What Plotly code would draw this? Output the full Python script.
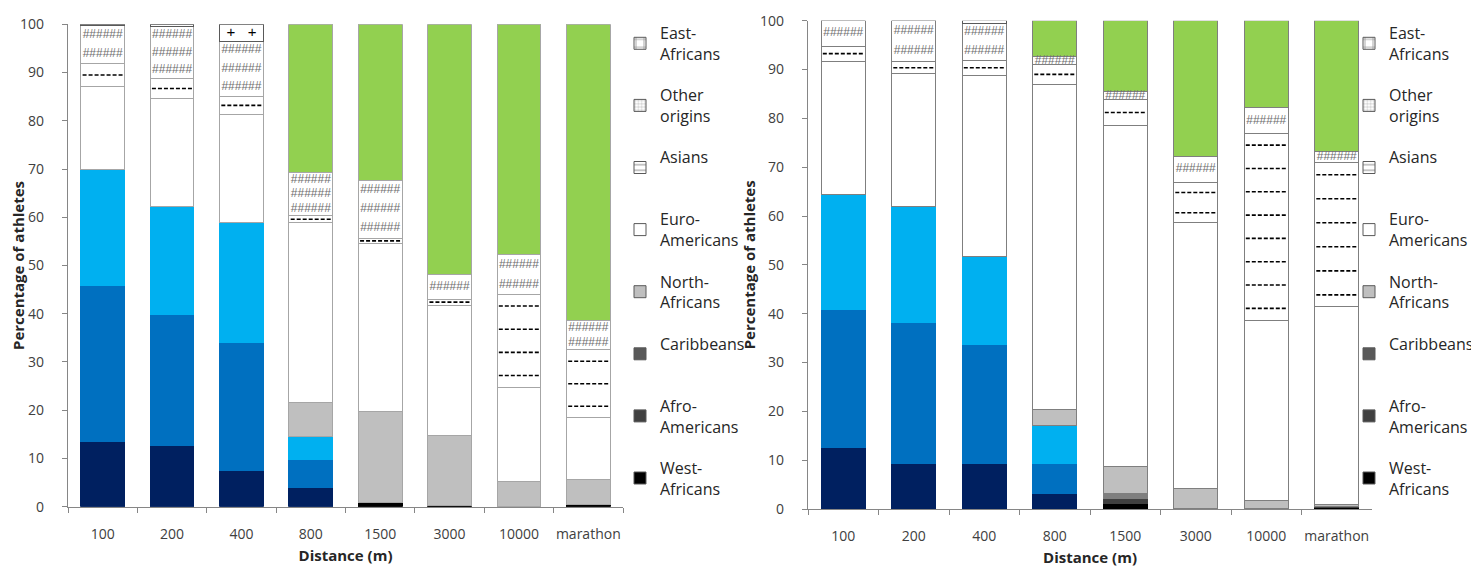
import numpy as np
import plotly.graph_objects as go

# ---------------- data ----------------
categories = ["100", "200", "400", "800", "1500", "3000", "10000", "marathon"]

series_names = ["West-Africans", "Afro-Americans", "Caribbeans", "North-Africans",
                "Euro-Americans", "Asians", "Other origins", "East-Africans"]
legend_labels = ["West-<br>Africans", "Afro-<br>Americans", "Caribbeans<br> ", "North-<br>Africans",
                 "Euro-<br>Americans", "Asians<br> ", "Other<br>origins", "East-<br>Africans"]

left_west = [13.6, 12.7, 7.5, 4.0, 0.8, 0.3, 0.0, 0.4]
left_afro = [32.2, 27.2, 26.6, 5.7, 0.0, 0.0, 0.0, 0.0]
left_carib = [24.1, 22.3, 24.9, 4.8, 0.0, 0.0, 0.0, 0.0]
left_north = [0.0, 0.0, 0.0, 7.1, 18.9, 14.4, 5.2, 5.3]
left_euro = [17.3, 22.4, 22.4, 37.3, 34.8, 27.1, 19.6, 12.8]
left_asian = [4.6, 4.2, 3.6, 1.4, 1.2, 1.2, 19.2, 14.0]
left_other = [7.9, 10.7, 11.5, 9.0, 12.0, 5.2, 8.2, 6.1]
left_east = [0.3, 0.5, 3.5, 30.7, 32.3, 51.8, 47.8, 61.4]

right_west = [12.6, 9.4, 9.4, 3.2, 1.2, 0.0, 0.0, 0.3]
right_afro = [28.2, 28.8, 24.2, 6.2, 1.0, 0.0, 0.0, 0.2]
right_carib = [23.7, 23.8, 18.2, 7.8, 1.0, 0.0, 0.0, 0.0]
right_north = [0.0, 0.0, 0.0, 3.1, 5.6, 4.1, 1.7, 0.4]
right_euro = [27.2, 27.1, 37.0, 66.7, 69.8, 54.5, 37.0, 40.5]
right_asian = [3.1, 2.5, 3.1, 4.0, 5.2, 8.3, 38.2, 29.5]
right_other = [5.2, 8.4, 7.6, 1.6, 1.7, 5.3, 5.3, 2.3]
right_east = [0.0, 0.0, 0.5, 7.4, 14.5, 27.8, 17.8, 26.8]

y_title = "Percentage of athletes"
x_title = "Distance (m)"

# ---------------- styling ----------------
SPRINT = 4          # first categories drawn in blue shades
EAST_WHITE = 3      # first categories where East-Africans box is white
BARGAP = 0.37
DASH_HALF = (1 - BARGAP) / 2 - 0.025
sprint_cols = {0: "#002060", 1: "#0070C0", 2: "#00B0F0"}
dist_cols = {0: "#000000", 1: "#404040", 2: "#7F7F7F"}
legend_cols = ["#000000", "#404040", "#595959", "#BFBFBF", "#FFFFFF", "#FFFFFF", "#FFFFFF", "#FFFFFF"]
legend_patterns = ["", "", "", "", "", "-", "+", "+"]
legend_psize = [8, 8, 8, 8, 8, 7, 4, 11]

panels = [
    dict(data=[left_west, left_afro, left_carib, left_north, left_euro, left_asian, left_other, left_east],
         xa="x", ya="y", xo="x3", legend="legend", outline="#A6A6A6"),
    dict(data=[right_west, right_afro, right_carib, right_north, right_euro, right_asian, right_other, right_east],
         xa="x2", ya="y2", xo="x4", legend="legend2", outline="#7F7F7F"),
]

fig = go.Figure()
n = len(categories)

for p in panels:
    outline = p["outline"]
    for s, vals in enumerate(p["data"]):
        colors, lcols = [], []
        for i in range(n):
            if s <= 2:
                c = sprint_cols[s] if i < SPRINT else dist_cols[s]
                colors.append(c)
                lcols.append(c)
            elif s == 3:
                colors.append("#BFBFBF")
                lcols.append(outline)
            elif s == 7:
                c = "#FFFFFF" if i < EAST_WHITE else "#92D050"
                colors.append(c)
                lcols.append("#595959" if i < EAST_WHITE else outline)
            else:
                colors.append("#FFFFFF")
                lcols.append(outline)
        fig.add_trace(go.Bar(
            x=categories, y=vals, name=series_names[s],
            xaxis=p["xa"], yaxis=p["ya"], showlegend=False,
            marker=dict(color=colors, line=dict(color=lcols, width=1)),
            hoverinfo="x+y+name",
        ))

    # pattern overlays (Asians dashes, Other origins #, East-Africans +)
    arr = np.array(p["data"])
    cum = np.cumsum(arr, axis=0)
    base = cum - arr
    dash_x, dash_y, hash_x, hash_y, plus_x, plus_y = [], [], [], [], [], []
    for i, cat in enumerate(categories):
        h = arr[5, i]
        if h > 0:
            k = max(1, int(h / 4.9 + 0.5))
            for r in range(k):
                yy = base[5, i] + h * (r + 0.5) / k
                dash_x += [i - DASH_HALF, i + DASH_HALF, None]
                dash_y += [yy, yy, None]
        h = arr[6, i]
        if h > 0:
            k = max(1, int(h / 3.6 + 0.5))
            for r in range(k):
                hash_x.append(cat)
                hash_y.append(base[6, i] + h * (r + 0.5) / k)
        h = arr[7, i]
        if i < EAST_WHITE and h >= 2:
            plus_x.append(cat)
            plus_y.append(base[7, i] + h / 2)
    fig.add_trace(go.Scatter(x=dash_x, y=dash_y, mode="lines",
                             line=dict(color="#000000", width=1.6, dash="4px,2px"),
                             xaxis=p["xo"], yaxis=p["ya"], showlegend=False, hoverinfo="skip"))
    fig.add_trace(go.Scatter(x=hash_x, y=hash_y, mode="text", text=["######"] * len(hash_x),
                             textfont=dict(family="Liberation Sans", size=12, color="#6E6E6E"),
                             xaxis=p["xa"], yaxis=p["ya"], showlegend=False, hoverinfo="skip"))
    fig.add_trace(go.Scatter(x=plus_x, y=plus_y, mode="text", text=["+   +"] * len(plus_x),
                             textfont=dict(family="Liberation Sans", size=15, color="#000000"),
                             xaxis=p["xa"], yaxis=p["ya"], showlegend=False, hoverinfo="skip"))

    # legend entries (grayscale legend as in the original), East-Africans on top
    for s in range(len(series_names)):
        fig.add_trace(go.Bar(
            x=[None], y=[None], name=legend_labels[s], legend=p["legend"],
            legendgroup=p["legend"] + str(s), legendrank=len(series_names) - s,
            xaxis=p["xa"], yaxis=p["ya"],
            marker=dict(color=legend_cols[s], line=dict(color="#595959", width=1),
                        pattern=dict(shape=legend_patterns[s], fgcolor="#333333", bgcolor="#FFFFFF",
                                     size=legend_psize[s], solidity=0.2) if legend_patterns[s] else None),
        ))

# page offset (browser body margin) compensation: positions below are in screenshot pixels
OFF = 8
W, H = 1479 - OFF, 568 - OFF
ML = 68 - OFF
MR = W - (1372 - OFF)
MT = 20 - OFF
MB = H - (509 - OFF)
PW = W - ML - MR
PH = H - MT - MB

def px_x(v):
    return (v - OFF - ML) / PW

def px_y(v):
    return (H - (v - OFF) - MB) / PH

tick_font = dict(family="Open Sans", size=14, color="#404040")
title_font = dict(family="Open Sans", size=15, color="#262626")
axis_common = dict(showline=True, linecolor="#868686", linewidth=1.3, ticks="outside",
                   tickcolor="#868686", ticklen=5, tickfont=tick_font, showgrid=False,
                   zeroline=False, automargin=False)
xrange = [-0.5, n - 0.5]

legend_common = dict(font=dict(family="Open Sans", size=16, color="#262626"),
                     traceorder="grouped", tracegroupgap=17.5, maxheight=540,
                     bgcolor="rgba(0,0,0,0)", yanchor="top", xanchor="left",
                     itemclick=False, itemdoubleclick=False)

dom1 = [0, px_x(623)]
dom2 = [px_x(808), px_x(1372)]

fig.update_layout(
    width=W, height=H, autosize=False,
    margin=dict(l=ML, r=MR, t=MT, b=MB, autoexpand=False),
    paper_bgcolor="white", plot_bgcolor="white",
    barmode="stack", bargap=BARGAP,
    xaxis=dict(domain=dom1, anchor="y", type="category", tickson="boundaries", range=xrange,
               tickangle=0,
               title=dict(text="<b>" + x_title + "</b>", font=title_font, standoff=8),
               ticklabelstandoff=14, **axis_common),
    yaxis=dict(domain=[px_y(506.7), px_y(24.3)], anchor="x", range=[0, 100], dtick=10,
               title=dict(text="<b>" + y_title + "</b>", font=title_font, standoff=0),
               ticklabelstandoff=15, **axis_common),
    xaxis2=dict(domain=dom2, anchor="y2", type="category", tickson="boundaries", range=xrange,
                tickangle=0,
                title=dict(text="<b>" + x_title + "</b>", font=title_font, standoff=8),
                ticklabelstandoff=14, **axis_common),
    yaxis2=dict(domain=[px_y(509), px_y(20.7)], anchor="x2", range=[0, 100], dtick=10,
                title=dict(text="<b>" + y_title + "</b>", font=title_font, standoff=0),
                ticklabelstandoff=15, **axis_common),
    xaxis3=dict(domain=dom1, anchor="y", overlaying="x", range=xrange, visible=False),
    xaxis4=dict(domain=dom2, anchor="y2", overlaying="x2", range=xrange, visible=False),
    legend=dict(x=px_x(620), y=px_y(16), **legend_common),
    legend2=dict(x=px_x(1349), y=px_y(16), **legend_common),
    showlegend=True,
)

fig.write_html("out.html")
